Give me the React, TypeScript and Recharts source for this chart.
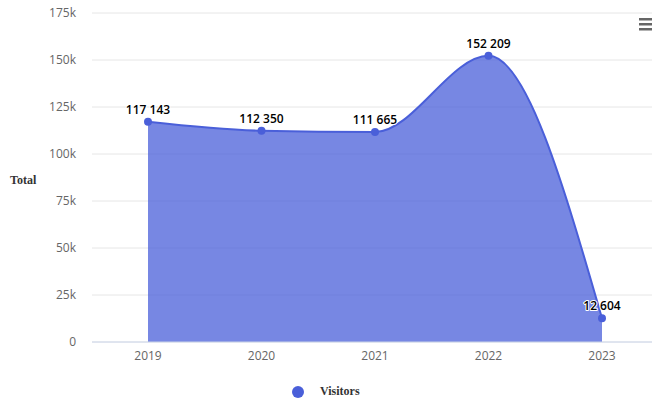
import { AreaChart, Area, XAxis, YAxis, CartesianGrid, LabelList } from "recharts";

const years = ["2019", "2020", "2021", "2022", "2023"];
const visitors = [117143, 112350, 111665, 152209, 12604];
const yTicks = [0, 25000, 50000, 75000, 100000, 125000, 150000, 175000];

const chartData = years.map((year, i) => ({ year, visitors: visitors[i] }));

const FONT = "'Open Sans', 'DejaVu Sans', sans-serif";

// 117143 -> "117 143"
const fmtNum = (v: number) => String(v).replace(/\B(?=(\d{3})+(?!\d))/g, " ");
const fmtK = (v: number) => (v === 0 ? "0" : `${v / 1000}k`);

const DataLabel = (props: any) => {
  const { x, y, value } = props;
  return (
    <text
      x={x}
      y={y - 8}
      textAnchor="middle"
      fontFamily={FONT}
      fontSize={12}
      fontWeight={600}
      fill="#000"
      stroke="#fff"
      strokeWidth={2}
      strokeLinejoin="round"
      paintOrder="stroke"
    >
      {fmtNum(value)}
    </text>
  );
};

export default function App() {
  return (
    <div style={{ position: "absolute", left: 0, top: 0, width: 652, height: 402, background: "#fff" }}>
      <AreaChart width={652} height={402} data={chartData} margin={{ top: 13, right: 0, bottom: 30, left: 0 }}>
        <CartesianGrid horizontal vertical={false} stroke="#e6e6e6" />
        <XAxis
          dataKey="year"
          padding={{ left: 56, right: 50 }}
          height={30}
          tickLine={false}
          tickSize={0}
          tickMargin={9}
          axisLine={{ stroke: "#ccd6eb" }}
          tick={{ fill: "#666", fontSize: 12, fontFamily: FONT }}
        />
        <YAxis
          width={92}
          domain={[0, 175000]}
          ticks={yTicks}
          tickFormatter={fmtK}
          axisLine={false}
          tickLine={false}
          tickSize={0}
          tickMargin={16}
          tick={{ fill: "#666", fontSize: 12, fontFamily: FONT }}
        />
        <Area
          type="monotone"
          dataKey="visitors"
          stroke="#4a5fd9"
          strokeWidth={2}
          fill="#4a5fd9"
          fillOpacity={0.75}
          dot={{ r: 4, fill: "#4a5fd9", stroke: "none", fillOpacity: 1 }}
          activeDot={false}
          isAnimationActive={false}
        >
          <LabelList dataKey="visitors" content={DataLabel} />
        </Area>
      </AreaChart>

      <div
        style={{
          position: "absolute",
          left: 10,
          top: 173,
          fontFamily: "'Liberation Serif', serif",
          fontSize: 12,
          fontWeight: "bold",
          color: "#333",
        }}
      >
        Total
      </div>

      <div
        style={{
          position: "absolute",
          left: 292,
          top: 384,
          display: "flex",
          alignItems: "center",
          fontFamily: "'Liberation Serif', serif",
          fontSize: 12,
          fontWeight: "bold",
          color: "#333",
        }}
      >
        <span
          style={{
            display: "inline-block",
            width: 12,
            height: 12,
            borderRadius: 6,
            background: "#4a5fd9",
            marginRight: 16,
          }}
        />
        Visitors
      </div>

      <svg style={{ position: "absolute", left: 638, top: 17 }} width={14} height={16}>
        <rect x={1} y={1} width={13} height={2.5} fill="#666" />
        <rect x={1} y={6} width={13} height={2.5} fill="#666" />
        <rect x={1} y={11} width={13} height={2.5} fill="#666" />
      </svg>
    </div>
  );
}
